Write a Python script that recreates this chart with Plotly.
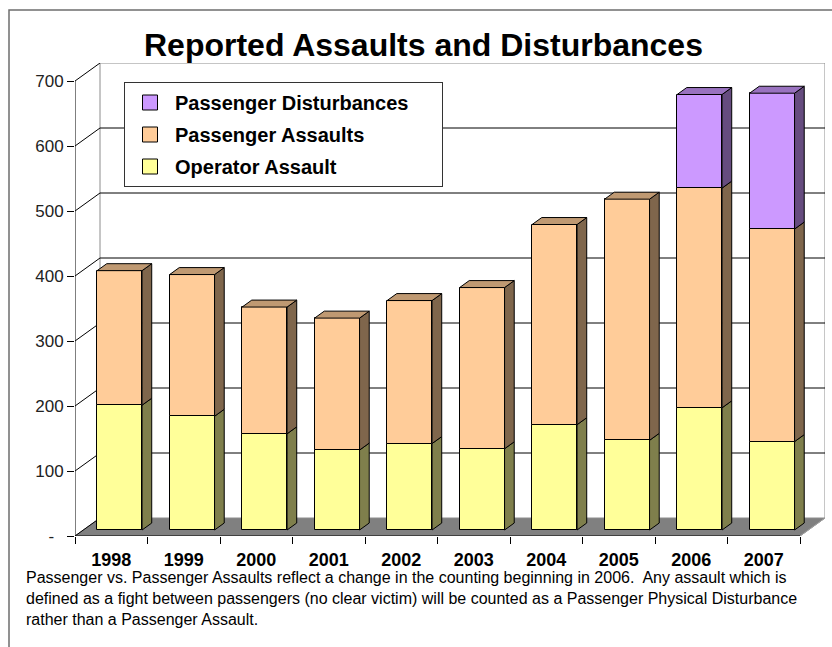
import plotly.graph_objects as go

# ---- data -------------------------------------------------------------
years = ["1998", "1999", "2000", "2001", "2002", "2003", "2004", "2005", "2006", "2007"]
operator_assault = [192, 175, 148, 123, 133, 125, 162, 138, 188, 136]
passenger_assaults = [207, 218, 195, 203, 220, 248, 308, 371, 338, 327]
passenger_disturbances = [None, None, None, None, None, None, None, None, 144, 209]

y_ticks = [0, 100, 200, 300, 400, 500, 600, 700]
y_tick_text = ["-\u2007", "100", "200", "300", "400", "500", "600", "700"]

title_text = "Reported Assaults and Disturbances"
note_text = ("Passenger vs. Passenger Assaults reflect a change in the counting beginning in 2006.  "
             "Any assault which is<br>defined as a fight between passengers (no clear victim) will be "
             "counted as a Passenger Physical Disturbance<br>rather than a Passenger Assault.")

series = [
    ("Operator Assault", operator_assault, "#FFFF99"),
    ("Passenger Assaults", passenger_assaults, "#FFCC99"),
    ("Passenger Disturbances", passenger_disturbances, "#CC99FF"),
]

# ---- pseudo-3D geometry (oblique projection in data units) -------------
N = len(years)
Y_MAX = 700
DX = 25 / 72.5          # full depth, in category units
DY = 18 / 0.65          # full depth, in value units
ZF, ZB = 1 / 3, 0.72    # front / back depth of the bars
BAR_W = 0.62


def shade(hex_color, f):
    h = hex_color.lstrip("#")
    r, g, b = (int(h[i:i + 2], 16) for i in (0, 2, 4))
    return "#%02X%02X%02X" % (int(r * f), int(g * f), int(b * f))


FONT = "Liberation Sans, Arial, sans-serif"
fig = go.Figure()

# stack bookkeeping
bases = [0.0] * N
top_series = [None] * N
for k, (_, vals, _) in enumerate(series):
    for i, v in enumerate(vals):
        if v:
            top_series[i] = k

ddx = (ZB - ZF) * DX
ddy = (ZB - ZF) * DY
side_traces, top_traces = [], []
for k, (name, vals, color) in enumerate(series):
    xs, ys, bs = [], [], []
    sx, sy, tx, ty = [], [], [], []
    for i, v in enumerate(vals):
        if not v:
            continue
        xc = i + 0.5 + ZF * DX
        b0 = bases[i] + ZF * DY
        xs.append(xc); ys.append(v); bs.append(b0)
        xr, xl = xc + BAR_W / 2, xc - BAR_W / 2
        # right side face
        sx += [xr, xr, xr + ddx, xr + ddx, xr, None]
        sy += [b0, b0 + v, b0 + v + ddy, b0 + ddy, b0, None]
        # top face on the highest segment only
        if top_series[i] == k:
            t = b0 + v
            tx += [xl, xr, xr + ddx, xl + ddx, xl, None]
            ty += [t, t, t + ddy, t + ddy, t, None]
        bases[i] += v
    fig.add_trace(go.Bar(
        x=xs, y=ys, base=bs, width=BAR_W, name=name, showlegend=False,
        marker=dict(color=color, line=dict(color="black", width=1)),
    ))
    side_traces.append(go.Scatter(
        x=sx, y=sy, mode="lines", fill="toself", fillcolor=shade(color, 0.5),
        line=dict(color="black", width=1), showlegend=False, hoverinfo="skip"))
    if tx:
        top_traces.append(go.Scatter(
            x=tx, y=ty, mode="lines", fill="toself", fillcolor=shade(color, 0.75),
            line=dict(color="black", width=1), showlegend=False, hoverinfo="skip"))

for t in side_traces + top_traces:
    fig.add_trace(t)

# legend entries, top to bottom (trailing spaces widen the legend box)
for name, _, color in reversed(series):
    fig.add_trace(go.Scatter(
        x=[None], y=[None], mode="markers", name=name + "\u00a0" * 5, legendgroup=name,
        marker=dict(symbol="square", size=15, color=color, line=dict(color="black", width=1)),
    ))

# ---- walls, floor and gridlines --------------------------------------
shapes = []
floor = f"M 0,0 L {N},0 L {N + DX},{DY} L {DX},{DY} Z"
shapes.append(dict(type="path", path=floor, xref="x", yref="y", layer="below",
                   fillcolor="#808080", line=dict(color="#808080", width=1)))
shapes.append(dict(type="rect", xref="x", yref="y", layer="below",
                   x0=DX, x1=N + DX, y0=DY, y1=Y_MAX + DY,
                   fillcolor="white", line=dict(color="#8C8C8C", width=1)))
for v in y_ticks[1:-1]:
    shapes.append(dict(type="line", xref="x", yref="y", layer="below",
                       x0=DX, x1=N + DX, y0=v + DY, y1=v + DY,
                       line=dict(color="black", width=1)))
for v in y_ticks:
    shapes.append(dict(type="line", xref="x", yref="y", layer="below",
                       x0=0, x1=DX, y0=v, y1=v + DY,
                       line=dict(color="black", width=1)))
shapes.append(dict(type="line", xref="x", yref="y", layer="below",
                   x0=N, x1=N + DX, y0=0, y1=DY, line=dict(color="#A0A0A0", width=1)))
shapes.append(dict(type="line", xref="x", yref="y", layer="below",
                   x0=0, x1=0, y0=0, y1=Y_MAX, line=dict(color="black", width=1)))
shapes.append(dict(type="line", xref="x", yref="y", layer="below",
                   x0=0, x1=N, y0=0, y1=0, line=dict(color="black", width=1.2)))
# outer frame (top and left edges visible)
shapes.append(dict(type="rect", xref="paper", yref="paper",
                   x0=-66 / 750, x1=1.03, y0=-0.3, y1=526 / 473,
                   line=dict(color="#6E6E6E", width=1.5)))

fig.update_layout(
    width=832, height=647,
    margin=dict(l=75, r=7, t=63, b=111),
    paper_bgcolor="white", plot_bgcolor="white",
    barmode="overlay", bargap=0,
    shapes=shapes,
    showlegend=True,
    legend=dict(
        x=49 / 750, y=454 / 473, xanchor="left", yanchor="top",
        bgcolor="white", bordercolor="#333333", borderwidth=1,
        font=dict(family=FONT, size=20, color="black", weight="bold"),
        traceorder="grouped", tracegroupgap=3, itemwidth=40,
    ),
    xaxis=dict(
        range=[0, N + DX], tickvals=[i + 0.5 for i in range(N)], ticktext=years,
        ticks="outside", ticklen=7, tickcolor="rgba(0,0,0,0)",
        showgrid=False, zeroline=False, showline=False, fixedrange=True,
        tickfont=dict(family=FONT, size=18, color="black", weight="bold"),
        minor=dict(tickvals=list(range(N + 1)), ticks="outside", ticklen=7,
                   tickcolor="black", tickwidth=1, showgrid=False),
    ),
    yaxis=dict(
        range=[0, Y_MAX + DY], tickvals=y_ticks, ticktext=y_tick_text,
        ticks="outside", ticklen=7, tickcolor="black", tickwidth=1,
        showgrid=False, zeroline=False, showline=False, fixedrange=True,
        tickfont=dict(family=FONT, size=17, color="#222222"),
    ),
    annotations=[
        dict(text=f"<b>{title_text}</b>", xref="paper", yref="paper",
             x=348 / 750, y=(536 - 45) / 473, xanchor="center", yanchor="middle",
             showarrow=False, font=dict(family=FONT, size=32, color="black")),
        dict(text=note_text, xref="paper", yref="paper", align="left",
             x=-51 / 750, y=(536 - 567) / 473, xanchor="left", yanchor="top",
             showarrow=False, font=dict(family=FONT, size=16, color="black")),
    ],
)

fig.write_html("out.html")
